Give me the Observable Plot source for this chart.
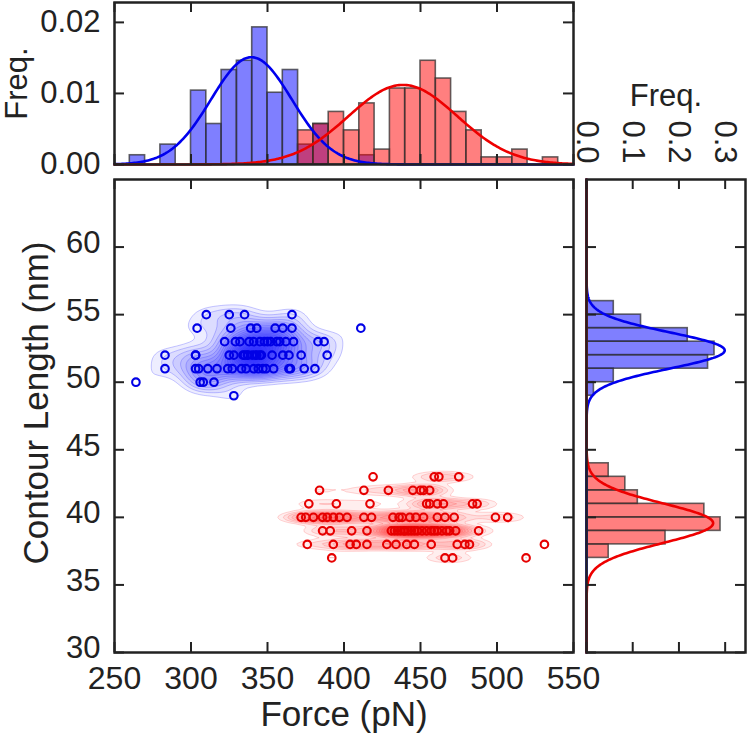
<!DOCTYPE html>
<html><head><meta charset="utf-8">
<script src="https://cdn.jsdelivr.net/npm/d3@7"></script>
<script src="https://cdn.jsdelivr.net/npm/@observablehq/plot@0.6"></script>
<style>
body{margin:0;background:#fff;}
#wrap{position:relative;width:750px;height:739px;overflow:hidden;background:#fff;}
#wrap svg{position:absolute;overflow:visible;}
</style></head><body><div id="wrap"></div>
<script>
// ---------------- data ----------------
const forceTicks = [250, 300, 350, 400, 450, 500, 550];
const lengthTicks = [30, 35, 40, 45, 50, 55, 60];
const freqTopTicks = [0, 0.01, 0.02];
const freqRightTicks = [0, 0.1, 0.2, 0.3];

// top histogram (Force, bin width 10 pN, bin start)
const forceBins = [260,270,280,290,300,310,320,330,340,350,360,370,380,390,400,410,420,430,440,450,460,470,480,490,500,510,520,530];
const blueForceFreq = [0.0013,0,0.0028,0,0.0104,0.0057,0.0133,0.0146,0.0193,0.0101,0.0133,0.0028,0.0057,0,0,0.0013,0,0,0,0,0,0,0,0,0,0,0,0];
const redForceFreq  = [0,0,0,0,0,0,0,0,0,0,0,0.0048,0.0057,0.0074,0.0048,0.0086,0.0021,0.0107,0.0107,0.0146,0.0121,0.0074,0.0048,0.0010,0.0010,0.0021,0,0.0010];

// right histogram (Contour length, bin width 1 nm, bin start)
const lengthBins = [37,38,39,40,41,42,43,44,45,46,47,48,49,50,51,52,53,54,55];
const blueLengthFreq = [0,0,0,0,0,0,0,0,0,0,0,0,0.016,0.059,0.263,0.277,0.219,0.118,0.059];
const redLengthFreq  = [0.048,0.171,0.290,0.255,0.111,0.084,0.048,0,0,0,0,0,0,0,0,0,0,0,0];

// Gaussian fits [blue, red]
const fitForceMu = [339.5, 438.5], fitForceSigma = [26.4, 35.6], fitForcePeak = [0.0151, 0.0112];
const fitLengthMu = [52.35, 39.57], fitLengthSigma = [1.33, 1.46], fitLengthPeak = [0.299, 0.274];

// scatter points
const blueForce = [310,325,335,366, 304,355,360,366,411, 350,358,367,383,387,
  283,303,328,335,337,340,343,353,360,364,372,389, 283,303,311,317,364,374,381, 264,306,315, 328,
  303,305,308, 322,325,327,324,329,326, 332,334,336,338,333,337,339,
  341,342,344,345,346,347,348,341,343,349,345, 352,354,356, 362,365];
const blueLength = [55,55,55,55, 54,54,54,54,54, 53,53,53,53,53,
  52,52,52,52,52,52,52,52,52,52,52,52, 51,51,51,51,51,51,51, 50,50,50, 49,
  52,51,50, 53,52,51,51,53,54, 53,52,51,53,51,52,54,
  53,52,51,53,52,51,53,51,54,51,52, 53,51,53, 53,51];

const redForce = [419,459,475, 384,413,429,445,450,456, 377,395,417,454,461,487,
  372,380,386,393,402,413,432,443,452,461,472,499,507, 386,391,488,
  376,393,404,415,428,446,457,479,531, 392,466,519,
  405,415,431,433,435,437,439,440,442,444,446,448,451,454,457,459,461,464,467,469,473,
  462, 452, 456,465,484, 375,389,397,418,436,438,447,466, 408,434,441,474,482, 471];
const redLength = [43,43,43, 42,42,42,42,42,42, 41,41,41,41,41,41,
  40,40,40,40,40,40,40,40,40,40,40,40,40, 39,39,39,
  38,38,38,38,38,38,38,38,38, 37,37,37,
  39,39,39,39,39,39,39,39,39,39,39,39,39,39,39,39,39,39,39,39,39,
  43, 42, 41,41,41, 40,40,40,40,40,40,40,40, 38,38,38,38,38, 37];

// ---------------- helpers ----------------
const wrap = document.getElementById("wrap");
const FONT = "'Liberation Sans', Arial, Helvetica, sans-serif";
const INK = "#222";
const TL = 10;
const style = {fontFamily: FONT, background: "transparent", color: INK, overflow: "visible"};
function place(svg, left, top) { svg.style.left = left + "px"; svg.style.top = top + "px"; wrap.appendChild(svg); }
const tickOpts = {stroke: INK, strokeWidth: 2};
const ticksBottom = (v, ih) => Plot.tickX(v, {x: d => d, insetTop: ih - TL, ...tickOpts});
const ticksTop = (v, ih) => Plot.tickX(v, {x: d => d, insetBottom: ih - TL, ...tickOpts});
const ticksLeft = (v, iw) => Plot.tickY(v, {y: d => d, insetRight: iw - TL, ...tickOpts});
const ticksRight = (v, iw) => Plot.tickY(v, {y: d => d, insetLeft: iw - TL, ...tickOpts});
const gauss = (v, mu, s, p) => p * Math.exp(-0.5 * ((v - mu) / s) ** 2);
const barStyle = {stroke: "#333", strokeOpacity: 0.75, strokeWidth: 1.6, fillOpacity: 0.5};
const title = {text: d => d, textAnchor: "middle", lineAnchor: "middle", fill: INK};

function kernelSum(fx, ly, bx, by) {
  return (x, y) => {
    let s = 0;
    for (let i = 0; i < fx.length; i++) {
      const u = (x - fx[i]) / bx, v = (y - ly[i]) / by;
      s += Math.exp(-0.5 * (u * u + v * v));
    }
    return s;
  };
}
function levels(f, fx, ly, lo, n) {
  let mx = 0;
  for (let i = 0; i < fx.length; i++) mx = Math.max(mx, f(fx[i], ly[i]));
  return d3.range(n).map(i => lo + (mx * 0.97 - lo) * i / n);
}

// ---------------- top histogram ----------------
{
  const W = 590, Hh = 170, mL = 114, mR = 17, mT = 2, mB = 6;
  const ih = Hh - mT - mB;
  const blueBars = forceBins.map((b, i) => ({x1: b, x2: b + 10, f: blueForceFreq[i]})).filter(d => d.f > 0);
  const redBars = forceBins.map((b, i) => ({x1: b, x2: b + 10, f: redForceFreq[i]})).filter(d => d.f > 0);
  const xs = d3.range(250, 550.5, 1);
  const svg = Plot.plot({
    width: W, height: Hh, marginLeft: mL, marginRight: mR, marginTop: mT, marginBottom: mB,
    style,
    x: {domain: [250, 550]},
    y: {domain: [0, 0.0228]},
    marks: [
      Plot.rect(blueBars, {x1: "x1", x2: "x2", y1: 0, y2: "f", fill: "blue", ...barStyle}),
      Plot.rect(redBars, {x1: "x1", x2: "x2", y1: 0, y2: "f", fill: "red", ...barStyle}),
      Plot.line(xs, {x: d => d, y: d => gauss(d, fitForceMu[0], fitForceSigma[0], fitForcePeak[0]), stroke: "#0000ee", strokeWidth: 2.6}),
      Plot.line(xs, {x: d => d, y: d => gauss(d, fitForceMu[1], fitForceSigma[1], fitForcePeak[1]), stroke: "#ee0000", strokeWidth: 2.6}),
      Plot.axisY(freqTopTicks, {anchor: "left", tickSize: 0, tickPadding: 14, fontSize: 31, tickFormat: d3.format(".2f"), label: null, fill: INK}),
      Plot.axisX({anchor: "bottom", ticks: [], label: null}),
      ticksTop(forceTicks, ih), ticksBottom(forceTicks, ih),
      ticksLeft(freqTopTicks, W - mL - mR), ticksRight(freqTopTicks, W - mL - mR),
      Plot.text(["Freq."], {...title, frameAnchor: "left", rotate: -90, dx: -97, fontSize: 31}),
      Plot.frame({stroke: INK, strokeWidth: 2.5})
    ]
  });
  place(svg, 0, 0);
}

// ---------------- main scatter ----------------
{
  const W = 590, Hh = 569, mL = 114, mR = 17, mT = 9, mB = 87;
  const ih = Hh - mT - mB, iw = W - mL - mR;
  const bluePts = blueForce.map((f, i) => ({f, l: blueLength[i]}));
  const redPts = redForce.map((f, i) => ({f, l: redLength[i]}));
  const fb = kernelSum(blueForce, blueLength, 10, 0.65);
  const fr = kernelSum(redForce, redLength, 12, 0.3);
  const tb = levels(fb, blueForce, blueLength, 1.1, 20);
  const tr = levels(fr, redForce, redLength, 1.0, 20);
  const svg = Plot.plot({
    width: W, height: Hh, marginLeft: mL, marginRight: mR, marginTop: mT, marginBottom: mB,
    style,
    x: {domain: [250, 550]},
    y: {domain: [30, 65]},
    marks: [
      Plot.contour({value: fb, x1: forceTicks[0], x2: forceTicks[6], y1: 30, y2: 65, thresholds: tb,
        fill: "blue", fillOpacity: 0.07, stroke: "#3333ff", strokeOpacity: 0.4, strokeWidth: 0.7}),
      Plot.contour({value: fr, x1: forceTicks[0], x2: forceTicks[6], y1: 30, y2: 65, thresholds: tr,
        fill: "red", fillOpacity: 0.065, stroke: "#ff3333", strokeOpacity: 0.3, strokeWidth: 0.7}),
      Plot.dot(bluePts, {x: "f", y: "l", r: 3.8, stroke: "#0000e6", strokeWidth: 2.1, fill: "none"}),
      Plot.dot(redPts, {x: "f", y: "l", r: 3.8, stroke: "#e60000", strokeWidth: 2.1, fill: "none"}),
      Plot.axisX(forceTicks, {anchor: "bottom", tickSize: 0, tickPadding: 14, fontSize: 32, label: null, fill: INK}),
      Plot.axisY(lengthTicks, {anchor: "left", tickSize: 0, tickPadding: 14, dy: -4, fontSize: 31, label: null, fill: INK}),
      ticksBottom(forceTicks, ih), ticksTop(forceTicks, ih),
      ticksLeft(lengthTicks, iw), ticksRight(lengthTicks, iw),
      Plot.text(["Force (pN)"], {...title, frameAnchor: "bottom", dy: 62, fontSize: 35}),
      Plot.text(["Contour Length (nm)"], {...title, frameAnchor: "left", rotate: -90, dx: -78, dy: -13, fontSize: 35}),
      Plot.frame({stroke: INK, strokeWidth: 2.5})
    ]
  });
  place(svg, 0, 170);
}

// ---------------- right histogram ----------------
{
  const W = 175, Hh = 679, mL = 11, mR = 5, mT = 119, mB = 87;
  const ih = Hh - mT - mB, iw = W - mL - mR;
  const blueBars = lengthBins.map((b, i) => ({y1: b, y2: b + 1, f: blueLengthFreq[i]})).filter(d => d.f > 0);
  const redBars = lengthBins.map((b, i) => ({y1: b, y2: b + 1, f: redLengthFreq[i]})).filter(d => d.f > 0);
  const ys = d3.range(30, 65.001, 0.05);
  const svg = Plot.plot({
    width: W, height: Hh, marginLeft: mL, marginRight: mR, marginTop: mT, marginBottom: mB,
    style,
    x: {domain: [0, 0.344]},
    y: {domain: [30, 65]},
    marks: [
      Plot.rect(blueBars, {y1: "y1", y2: "y2", x1: 0, x2: "f", fill: "blue", ...barStyle}),
      Plot.rect(redBars, {y1: "y1", y2: "y2", x1: 0, x2: "f", fill: "red", ...barStyle}),
      Plot.line(ys, {y: d => d, x: d => gauss(d, fitLengthMu[0], fitLengthSigma[0], fitLengthPeak[0]), stroke: "#0000ee", strokeWidth: 2.6}),
      Plot.line(ys, {y: d => d, x: d => gauss(d, fitLengthMu[1], fitLengthSigma[1], fitLengthPeak[1]), stroke: "#ee0000", strokeWidth: 2.6}),
      Plot.axisX(freqRightTicks, {anchor: "top", tickSize: 0, tickRotate: 90, tickPadding: 16, fontSize: 31, tickFormat: d3.format(".1f"), label: null, fill: INK}),
      Plot.axisY({anchor: "left", ticks: [], label: null}),
      ticksTop(freqRightTicks, ih), ticksBottom(freqRightTicks, ih),
      ticksLeft(lengthTicks, iw), ticksRight(lengthTicks, iw),
      Plot.text(["Freq."], {...title, frameAnchor: "top", dy: -83, fontSize: 31}),
      Plot.frame({stroke: INK, strokeWidth: 2.5})
    ]
  });
  place(svg, 575, 60);
}
</script>
</body></html>
